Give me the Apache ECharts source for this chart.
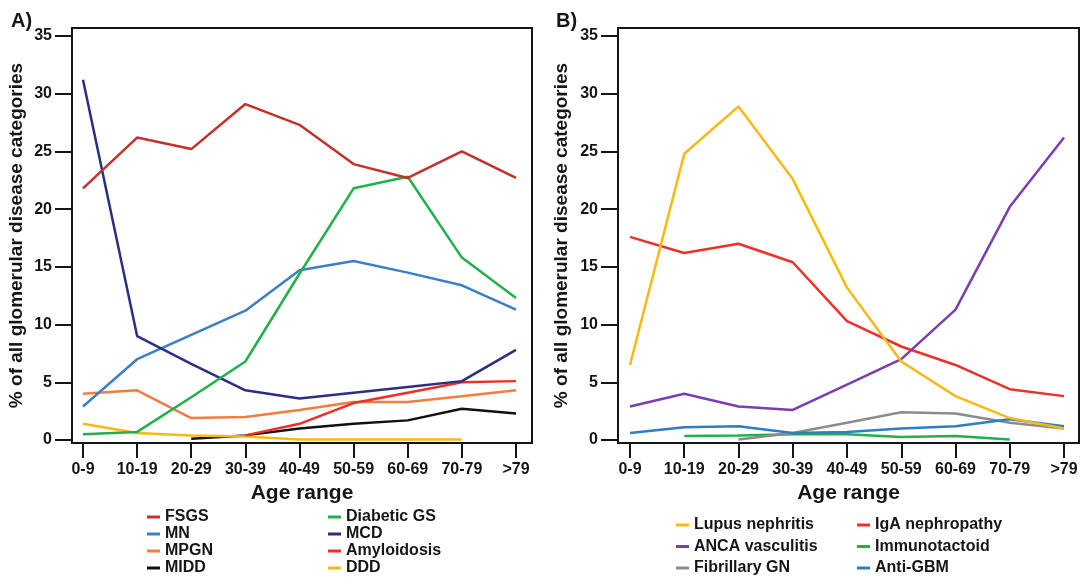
<!DOCTYPE html>
<html><head><meta charset="utf-8">
<script src="https://cdn.jsdelivr.net/npm/echarts@6/dist/echarts.min.js"></script>
<style>html,body{margin:0;padding:0;background:#fff}#c{width:1084px;height:579px}</style>
</head><body><div id="c"></div>
<script>
const ageRanges = ['0-9','10-19','20-29','30-39','40-49','50-59','60-69','70-79','>79'];
const yTicks = [0,5,10,15,20,25,30,35];

// Panel A
const fsgs        = [21.8, 26.2, 25.2, 29.1, 27.3, 23.9, 22.7, 25.0, 22.7];
const mn          = [2.9, 7.0, 9.1, 11.2, 14.7, 15.5, 14.5, 13.4, 11.3];
const diabeticGS  = [0.5, 0.7, 3.7, 6.8, 14.4, 21.8, 22.8, 15.8, 12.3];
const mcd         = [31.2, 9.0, 6.6, 4.3, 3.6, 4.1, 4.6, 5.1, 7.8];
const mpgn        = [4.0, 4.3, 1.9, 2.0, 2.6, 3.3, 3.3, 3.8, 4.3];
const amyloidosis = [null, null, null, 0.4, 1.4, 3.2, 4.1, 5.0, 5.1];
const midd        = [null, null, 0.1, 0.4, 1.0, 1.4, 1.7, 2.7, 2.3];
const ddd         = [1.4, 0.6, 0.4, 0.3, 0.05, 0.05, 0.05, 0.05, null];

// Panel B
const lupus         = [6.5, 24.8, 28.9, 22.6, 13.2, 6.8, 3.8, 1.9, 1.0];
const igaN          = [17.6, 16.2, 17.0, 15.4, 10.3, 8.1, 6.5, 4.4, 3.8];
const anca          = [2.9, 4.0, 2.9, 2.6, 4.8, 7.0, 11.3, 20.2, 26.2];
const immunotactoid = [null, 0.35, 0.4, 0.5, 0.5, 0.25, 0.35, 0.05, null];
const fibrillary    = [null, null, 0.05, 0.6, 1.5, 2.4, 2.3, 1.5, 1.0];
const antiGBM       = [0.6, 1.1, 1.2, 0.6, 0.7, 1.0, 1.2, 1.8, 1.2];

const FONT = '"Liberation Sans", Arial, sans-serif';
const INK = '#151515';
const idx = ageRanges.map((_, i) => i);

function pts(arr) {
  const out = [];
  arr.forEach((v, i) => { if (v !== null) out.push([i, v]); });
  return out;
}

function xAxisFor(gi, min, max) {
  return {
    type: 'value', gridIndex: gi, min: min, max: max,
    name: 'Age range', nameLocation: 'middle', nameGap: 38,
    nameTextStyle: { fontFamily: FONT, fontWeight: 'bold', fontSize: 21, color: INK },
    axisLine: { show: true, onZero: false, lineStyle: { color: INK, width: 2 } },
    axisTick: { show: true, length: 15, customValues: idx, lineStyle: { color: INK, width: 2 } },
    axisLabel: { customValues: idx, margin: 19, fontFamily: FONT, fontWeight: 'bold', fontSize: 16, color: INK,
      formatter: v => ageRanges[Math.round(v)] },
    splitLine: { show: false }
  };
}
function yAxisFor(gi, gap) {
  return {
    type: 'value', gridIndex: gi, min: -0.26, max: 35.69,
    name: '% of all glomerular disease categories', nameLocation: 'middle', nameGap: gap, nameRotate: 90,
    nameTextStyle: { fontFamily: FONT, fontWeight: 'bold', fontSize: 19, color: INK },
    axisLine: { show: true, onZero: false, lineStyle: { color: INK, width: 2 } },
    axisTick: { show: true, length: 17, customValues: yTicks, lineStyle: { color: INK, width: 2 } },
    axisLabel: { customValues: yTicks, margin: 20, fontFamily: FONT, fontWeight: 'bold', fontSize: 16, color: INK },
    splitLine: { show: false }
  };
}
function line(name, data, color, gi) {
  return { type: 'line', name: name, xAxisIndex: gi, yAxisIndex: gi, data: pts(data),
    showSymbol: false, symbol: 'none', lineStyle: { color: color, width: 2.5 }, itemStyle: { color: color },
    emphasis: { disabled: true }, animation: false };
}
function legendCol(left, top, names, gap) {
  return { left: left, top: top, orient: 'vertical', data: names, padding: 0, itemGap: gap,
    icon: 'rect', itemWidth: 13, itemHeight: 3, selectedMode: false,
    textStyle: { fontFamily: FONT, fontWeight: 'bold', fontSize: 16, color: INK, lineHeight: 16 } };
}

const chart = echarts.init(document.getElementById('c'), null, { renderer: 'canvas' });
chart.setOption({
  animation: false,
  backgroundColor: '#fff',
  title: [
    { text: 'A)', left: 6, top: 6, textStyle: { fontFamily: FONT, fontWeight: 'bold', fontSize: 20, color: INK } },
    { text: 'B)', left: 551, top: 6, textStyle: { fontFamily: FONT, fontWeight: 'bold', fontSize: 20, color: INK } }
  ],
  grid: [
    { left: 72, top: 28, width: 460, height: 415, show: true, borderColor: INK, borderWidth: 2, backgroundColor: 'transparent' },
    { left: 618, top: 28, width: 461, height: 415, show: true, borderColor: INK, borderWidth: 2, backgroundColor: 'transparent' }
  ],
  xAxis: [xAxisFor(0, -0.203, 8.296), xAxisFor(1, -0.221, 8.276)],
  yAxis: [yAxisFor(0, 46), yAxisFor(1, 47)],
  legend: [
    legendCol(147, 509, ['FSGS', 'MN', 'MPGN', 'MIDD'], 1),
    legendCol(328, 509, ['Diabetic GS', 'MCD', 'Amyloidosis', 'DDD'], 1),
    legendCol(676, 517, ['Lupus nephritis', 'ANCA vasculitis', 'Fibrillary GN'], 5.5),
    legendCol(857, 517, ['IgA nephropathy', 'Immunotactoid', 'Anti-GBM'], 5.5)
  ],
  series: [
    line('MPGN', mpgn, '#f47c3c', 0),
    line('MIDD', midd, '#111111', 0),
    line('DDD', ddd, '#fbb814', 0),
    line('Amyloidosis', amyloidosis, '#ee2f26', 0),
    line('MN', mn, '#3a80c6', 0),
    line('MCD', mcd, '#2b2f84', 0),
    line('Diabetic GS', diabeticGS, '#22b04b', 0),
    line('FSGS', fsgs, '#c4302b', 0),
    line('Immunotactoid', immunotactoid, '#22b04b', 1),
    line('Fibrillary GN', fibrillary, '#8c8c8c', 1),
    line('Anti-GBM', antiGBM, '#2e7ec6', 1),
    line('IgA nephropathy', igaN, '#ec3226', 1),
    line('ANCA vasculitis', anca, '#7b3db3', 1),
    line('Lupus nephritis', lupus, '#fbb814', 1)
  ]
});
</script></body></html>
